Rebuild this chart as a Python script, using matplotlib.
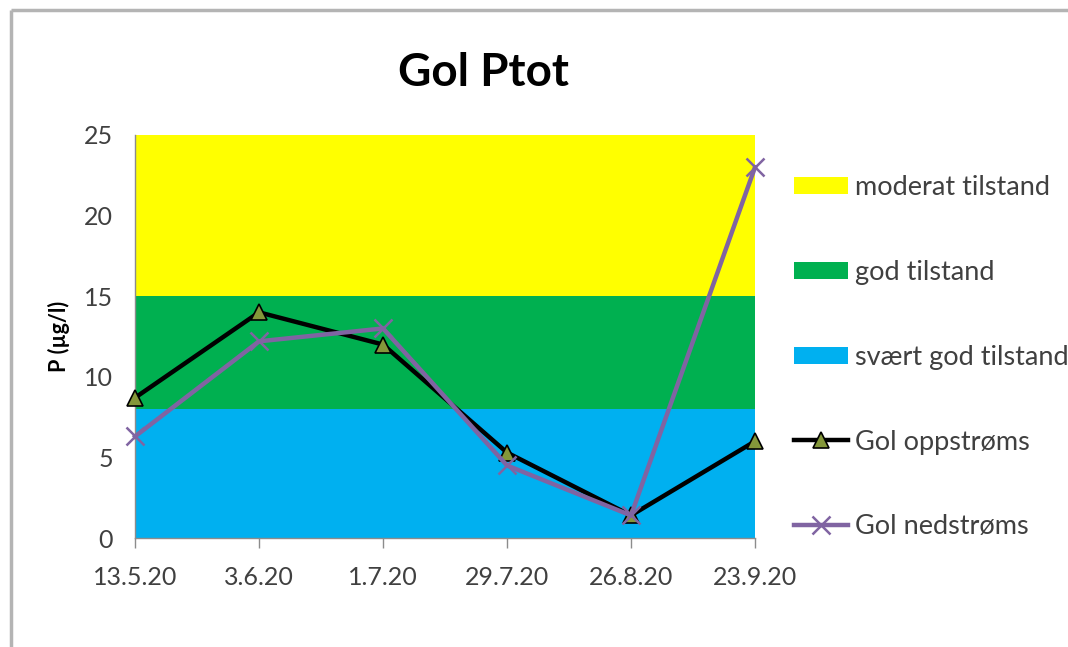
import matplotlib
matplotlib.use("Agg")
import matplotlib.pyplot as plt
from matplotlib.lines import Line2D
from matplotlib.patches import Patch

plt.rcParams['font.family'] = ['Lato', 'DejaVu Sans']

# ---- data ----
dates = ["13.5.20", "3.6.20", "1.7.20", "29.7.20", "26.8.20", "23.9.20"]
oppstroms = [8.7, 14.0, 12.0, 5.3, 1.4, 6.0]
nedstroms = [6.3, 12.2, 13.0, 4.5, 1.4, 23.0]
band_edges = [0, 8, 15, 25]
band_labels = ["svært god tilstand", "god tilstand", "moderat tilstand"]
band_colors = ["#00B0F0", "#00B050", "#FFFF00"]
yticks = [0, 5, 10, 15, 20, 25]

text_col = "#404040"

fig = plt.figure(figsize=(10.68, 6.47), dpi=100)
W, H = 1068, 647

# outer frame (left + top borders of the chart area)
fig.add_artist(Line2D([11/W, 11/W], [0, 1 - 10/H], transform=fig.transFigure,
                      color="#B4B4B4", lw=2.5, solid_capstyle='butt'))
fig.add_artist(Line2D([11/W, 1.01], [1 - 10/H, 1 - 10/H], transform=fig.transFigure,
                      color="#B4B4B4", lw=2.5, solid_capstyle='butt'))

ax = fig.add_axes([135/W, 1 - 538/H, 620/W, 403/H])
x = list(range(len(dates)))

band_handles = []
for lo, hi, lab, col in zip(band_edges[:-1], band_edges[1:], band_labels, band_colors):
    ax.axhspan(lo, hi, color=col, lw=0, zorder=0)
    band_handles.append(Patch(facecolor=col, edgecolor='none', label=lab))

l1, = ax.plot(x, oppstroms, color="black", lw=3.2, marker="^", markersize=11,
              markerfacecolor="#84973A", markeredgecolor="black", markeredgewidth=1.2,
              label="Gol oppstrøms", zorder=3, clip_on=False)
l2, = ax.plot(x, nedstroms, color="#8064A2", lw=3.2, marker="x", markersize=13,
              markeredgewidth=1.8, label="Gol nedstrøms", zorder=4, clip_on=False)

ax.set_xlim(0, len(dates) - 1)
ax.set_ylim(band_edges[0], band_edges[-1])
ax.set_xticks(x)
ax.set_xticklabels(dates)
ax.set_yticks(yticks)
ax.tick_params(axis='x', direction='out', length=7, width=1, color="#8C8C8C",
               labelsize=18, labelcolor=text_col, pad=13)
ax.tick_params(axis='y', length=0, labelsize=18, labelcolor=text_col, pad=16)
for s in ["top", "right"]:
    ax.spines[s].set_visible(False)
for s in ["left", "bottom"]:
    ax.spines[s].set_color("#8C8C8C")
    ax.spines[s].set_linewidth(1)

ax.set_ylabel("P (µg/l)", fontsize=15.5, fontweight='bold', color="black", labelpad=10)

fig.text(484/W, 1 - 73/H, "Gol Ptot", fontsize=33, fontweight='bold',
         ha='center', va='center', color="black")

handles = [band_handles[2], band_handles[1], band_handles[0], l1, l2]
leg = fig.legend(handles=handles, labels=[h.get_label() for h in handles],
                 loc='upper left', bbox_to_anchor=(794/W, 1 - 175/H),
                 frameon=False, fontsize=19.5, labelcolor=text_col,
                 handlelength=2.0, handleheight=0.6, handletextpad=0.26,
                 labelspacing=2.21, borderaxespad=0, borderpad=0)

fig.savefig("out.png", dpi=100)
